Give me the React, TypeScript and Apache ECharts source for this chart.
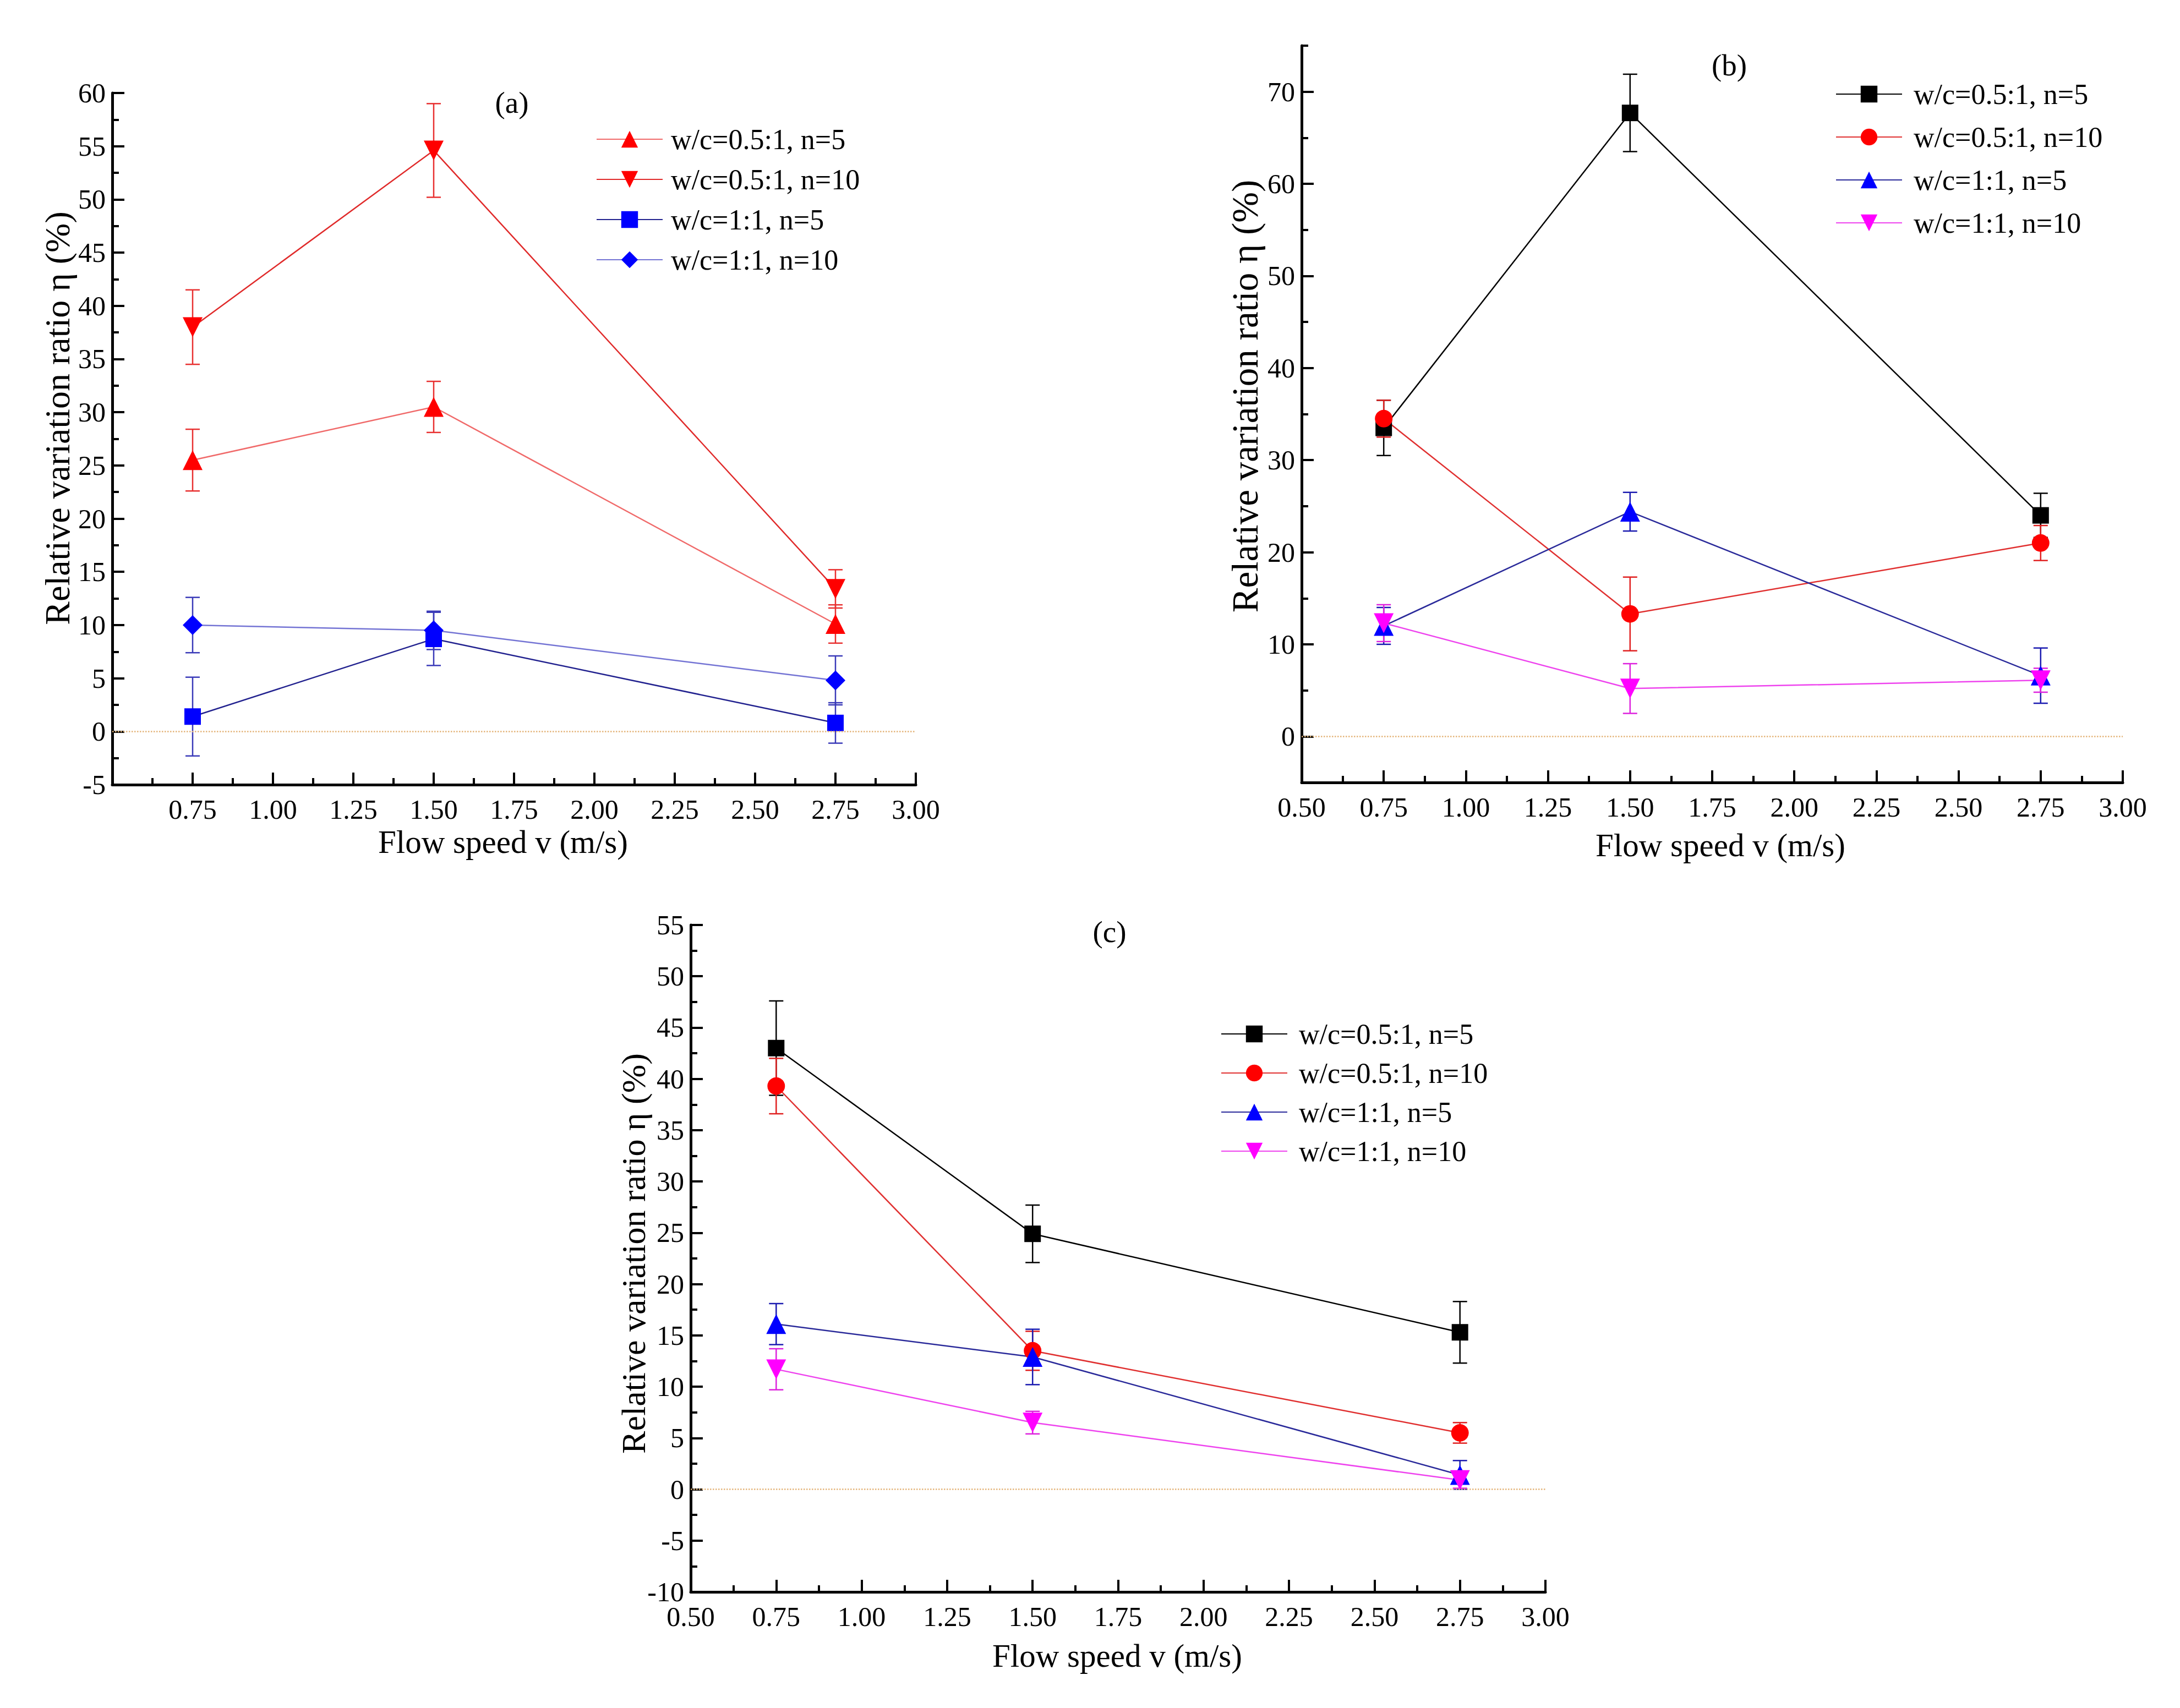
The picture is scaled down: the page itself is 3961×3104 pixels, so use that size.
import React, { useEffect, useRef } from 'react';
import * as echarts from 'echarts';

// flow speeds (m/s) shared by every panel
const speeds = [0.75, 1.5, 2.75];
const legendNames = ['w/c=0.5:1, n=5', 'w/c=0.5:1, n=10', 'w/c=1:1, n=5', 'w/c=1:1, n=10'];

// panel (a)
const aHalfN5 = [25.5, 30.5, 10.1];
const aHalfN5Err = [2.9, 2.4, 1.8];
const aHalfN10 = [38.0, 54.6, 13.4];
const aHalfN10Err = [3.5, 4.4, 1.8];
const aOneN5 = [1.4, 8.7, 0.8];
const aOneN5Err = [3.7, 2.5, 1.9];
const aOneN10 = [10.0, 9.5, 4.8];
const aOneN10Err = [2.6, 1.8, 2.3];

// panel (b)
const bHalfN5 = [33.5, 67.7, 24.0];
const bHalfN5Err = [3.0, 4.2, 2.4];
const bHalfN10 = [34.5, 13.3, 21.0];
const bHalfN10Err = [2.0, 4.0, 1.9];
const bOneN5 = [12.0, 24.4, 6.6];
const bOneN5Err = [2.0, 2.1, 3.0];
const bOneN10 = [12.3, 5.2, 6.1];
const bOneN10Err = [2.0, 2.7, 1.3];

// panel (c)
const cHalfN5 = [43.0, 24.9, 15.3];
const cHalfN5Err = [4.6, 2.8, 3.0];
const cHalfN10 = [39.3, 13.5, 5.5];
const cHalfN10Err = [2.7, 1.9, 1.0];
const cOneN5 = [16.1, 12.9, 1.4];
const cOneN5Err = [2.0, 2.7, 1.4];
const cOneN10 = [11.7, 6.5, 0.9];
const cOneN10Err = [2.0, 1.1, 0.8];

// y tick values
const aYTicks = { min: -5, max: 60, interval: 5 };
const bYLabels = [0, 10, 20, 30, 40, 50, 60, 70];
const bYMinor = [-5, 5, 15, 25, 35, 45, 55, 65, 75];
const cYTicks = { min: -10, max: 55, interval: 5 };

const FONT = '"Liberation Serif", "Times New Roman", serif';
const Y_NAME = 'Relative variation ratio η (%)';
const X_NAME = 'Flow speed v (m/s)';

type Curve = {
  values: number[];
  errors: number[];
  symbol: string;
  rotate?: number;
  size: number;
  color: string;
  lineColor: string;
  barColor: string;
};

const panels: { key: string; curves: Curve[] }[] = [
  {
    key: 'a',
    curves: [
      { values: aHalfN5, errors: aHalfN5Err, symbol: 'triangle', size: 36, color: '#ff0000', lineColor: '#f06a6a', barColor: '#e83030' },
      { values: aHalfN10, errors: aHalfN10Err, symbol: 'triangle', rotate: 180, size: 36, color: '#ff0000', lineColor: '#e02a2a', barColor: '#e83030' },
      { values: aOneN5, errors: aOneN5Err, symbol: 'rect', size: 30, color: '#0000ff', lineColor: '#22228f', barColor: '#3a3ab8' },
      { values: aOneN10, errors: aOneN10Err, symbol: 'diamond', size: 36, color: '#0000ff', lineColor: '#7474d4', barColor: '#3a3ab8' },
    ],
  },
  {
    key: 'b',
    curves: [
      { values: bHalfN5, errors: bHalfN5Err, symbol: 'rect', size: 30, color: '#000000', lineColor: '#000000', barColor: '#000000' },
      { values: bHalfN10, errors: bHalfN10Err, symbol: 'circle', size: 32, color: '#ff0000', lineColor: '#e03030', barColor: '#e02020' },
      { values: bOneN5, errors: bOneN5Err, symbol: 'triangle', size: 36, color: '#0000ff', lineColor: '#2a2a9a', barColor: '#1a1ab0' },
      { values: bOneN10, errors: bOneN10Err, symbol: 'triangle', rotate: 180, size: 36, color: '#ff00ff', lineColor: '#ee44ee', barColor: '#dd22dd' },
    ],
  },
  {
    key: 'c',
    curves: [
      { values: cHalfN5, errors: cHalfN5Err, symbol: 'rect', size: 30, color: '#000000', lineColor: '#000000', barColor: '#000000' },
      { values: cHalfN10, errors: cHalfN10Err, symbol: 'circle', size: 32, color: '#ff0000', lineColor: '#e03030', barColor: '#e02020' },
      { values: cOneN5, errors: cOneN5Err, symbol: 'triangle', size: 36, color: '#0000ff', lineColor: '#2a2a9a', barColor: '#1a1ab0' },
      { values: cOneN10, errors: cOneN10Err, symbol: 'triangle', rotate: 180, size: 36, color: '#ff00ff', lineColor: '#ee44ee', barColor: '#dd22dd' },
    ],
  },
];

const grids = [
  { left: 204, top: 169, width: 1460, height: 1257 },
  { left: 2365, top: 83, width: 1492, height: 1339 },
  { left: 1255, top: 1681, width: 1553, height: 1212 },
];

const legendPos = [
  { left: 1078, top: 222, gap: 21, pad: 10 },
  { left: 3330, top: 140, gap: 26, pad: 16 },
  { left: 2213, top: 1848, gap: 19, pad: 16 },
];

const axisLine = { onZero: false, lineStyle: { color: '#000', width: 5 } };
const majorTick = { inside: true, length: 22, lineStyle: { color: '#000', width: 4 } };
const minorTick = { show: true, splitNumber: 2, length: 12, lineStyle: { color: '#000', width: 4 } };
const tickFont = { fontFamily: FONT, fontSize: 50, lineHeight: 42, color: '#000' };

const makeXAxis = (gridIndex: number, hideFirst: boolean) => ({
  type: 'value',
  gridIndex,
  min: 0.5,
  max: 3,
  interval: 0.25,
  axisLine,
  axisTick: majorTick,
  minorTick,
  splitLine: { show: false },
  axisLabel: {
    ...tickFont,
    margin: 24,
    formatter: (v: number) => (hideFirst && v === 0.5 ? '' : v.toFixed(2)),
  },
});

const text = (t: string, x: number, y: number, size: number, rotation = 0) => ({
  type: 'text',
  x,
  y,
  rotation,
  style: {
    text: t,
    fontFamily: FONT,
    fontSize: size,
    lineHeight: Math.round(size * 0.9),
    fill: '#000',
    align: 'center',
    verticalAlign: 'middle',
  },
});

const App: React.FC = () => {
  const chartRef = useRef<HTMLDivElement>(null);

  useEffect(() => {
    document.body.style.margin = '0';
    if (!chartRef.current) return;
    const chart = echarts.init(chartRef.current, undefined, { renderer: 'svg' });

    const series: any[] = [];
    panels.forEach((panel, p) => {
      panel.curves.forEach((c, i) => {
        const name = `${panel.key}|${legendNames[i]}`;
        // error bars
        series.push({
          type: 'custom',
          xAxisIndex: p,
          yAxisIndex: p,
          z: 2,
          silent: true,
          data: speeds.map((s, k) => [s, c.values[k], c.errors[k]]),
          encode: { x: 0, y: 1 },
          renderItem: (_params: any, api: any) => {
            const x = api.value(0);
            const y = api.value(1);
            const e = api.value(2);
            const hi = api.coord([x, y + e]);
            const lo = api.coord([x, y - e]);
            const half = 13;
            const style = { stroke: c.barColor, lineWidth: 2.5 };
            return {
              type: 'group',
              children: [
                { type: 'line', shape: { x1: hi[0], y1: hi[1], x2: lo[0], y2: lo[1] }, style },
                { type: 'line', shape: { x1: hi[0] - half, y1: hi[1], x2: hi[0] + half, y2: hi[1] }, style },
                { type: 'line', shape: { x1: lo[0] - half, y1: lo[1], x2: lo[0] + half, y2: lo[1] }, style },
              ],
            };
          },
        });
        series.push({
          type: 'line',
          name,
          xAxisIndex: p,
          yAxisIndex: p,
          z: 3,
          data: speeds.map((s, k) => [s, c.values[k]]),
          symbol: c.symbol,
          symbolRotate: c.rotate || 0,
          symbolSize: c.size,
          showAllSymbol: true,
          itemStyle: { color: c.color },
          lineStyle: { color: c.lineColor, width: 2.5 },
          markLine:
            i === 0
              ? {
                  silent: true,
                  symbol: 'none',
                  label: { show: false },
                  lineStyle: { type: 'dotted', color: '#e4b478', width: 2.5 },
                  data: [{ yAxis: 0 }],
                }
              : undefined,
        });
      });
    });

    const option: any = {
      animation: false,
      backgroundColor: '#fff',
      grid: grids.map((g) => ({ ...g, containLabel: false, outerBoundsMode: 'none' })),
      xAxis: [makeXAxis(0, true), makeXAxis(1, false), makeXAxis(2, false)],
      yAxis: [
        {
          type: 'value',
          gridIndex: 0,
          ...aYTicks,
          axisLine,
          axisTick: majorTick,
          minorTick,
          splitLine: { show: false },
          axisLabel: { ...tickFont, margin: 12 },
        },
        {
          type: 'value',
          gridIndex: 1,
          min: -5,
          max: 75,
          interval: 5,
          axisLine,
          axisTick: { ...majorTick, customValues: bYLabels },
          splitLine: { show: false },
          axisLabel: { ...tickFont, margin: 12, customValues: bYLabels },
        },
        {
          type: 'value',
          gridIndex: 2,
          ...cYTicks,
          axisLine,
          axisTick: majorTick,
          minorTick,
          splitLine: { show: false },
          axisLabel: { ...tickFont, margin: 12 },
        },
        {
          // minor ticks of panel (b)
          type: 'value',
          gridIndex: 1,
          position: 'left',
          min: -5,
          max: 75,
          interval: 5,
          axisLine: { show: false },
          axisTick: { inside: true, length: 12, lineStyle: { color: '#000', width: 4 }, customValues: bYMinor },
          splitLine: { show: false },
          axisLabel: { show: false },
        },
      ],
      legend: panels.map((panel, p) => ({
        orient: 'vertical',
        left: legendPos[p].left,
        top: legendPos[p].top,
        itemWidth: 120,
        itemHeight: 38,
        itemGap: legendPos[p].gap,
        selectedMode: false,
        data: legendNames.map((n) => `${panel.key}|${n}`),
        formatter: (n: string) => n.split('|')[1],
        textStyle: {
          fontFamily: FONT,
          fontSize: 52,
          color: '#000',
          padding: [0, 0, 0, legendPos[p].pad],
        },
      })),
      graphic: [
        text('(a)', 930, 186, 55),
        text('(b)', 3142, 118, 55),
        text('(c)', 2016, 1693, 55),
        text(Y_NAME, 104, 760, 64, Math.PI / 2),
        text(Y_NAME, 2262, 720, 67, Math.PI / 2),
        text(Y_NAME, 1151, 2278, 62, Math.PI / 2),
        text(X_NAME, 914, 1530, 59),
        text(X_NAME, 3126, 1536, 59),
        text(X_NAME, 2030, 3009, 59),
      ],
      series,
    };

    chart.setOption(option);
    return () => {
      chart.dispose();
    };
  }, []);

  return <div ref={chartRef} style={{ width: '3961px', height: '3104px' }} />;
};

export default App;
